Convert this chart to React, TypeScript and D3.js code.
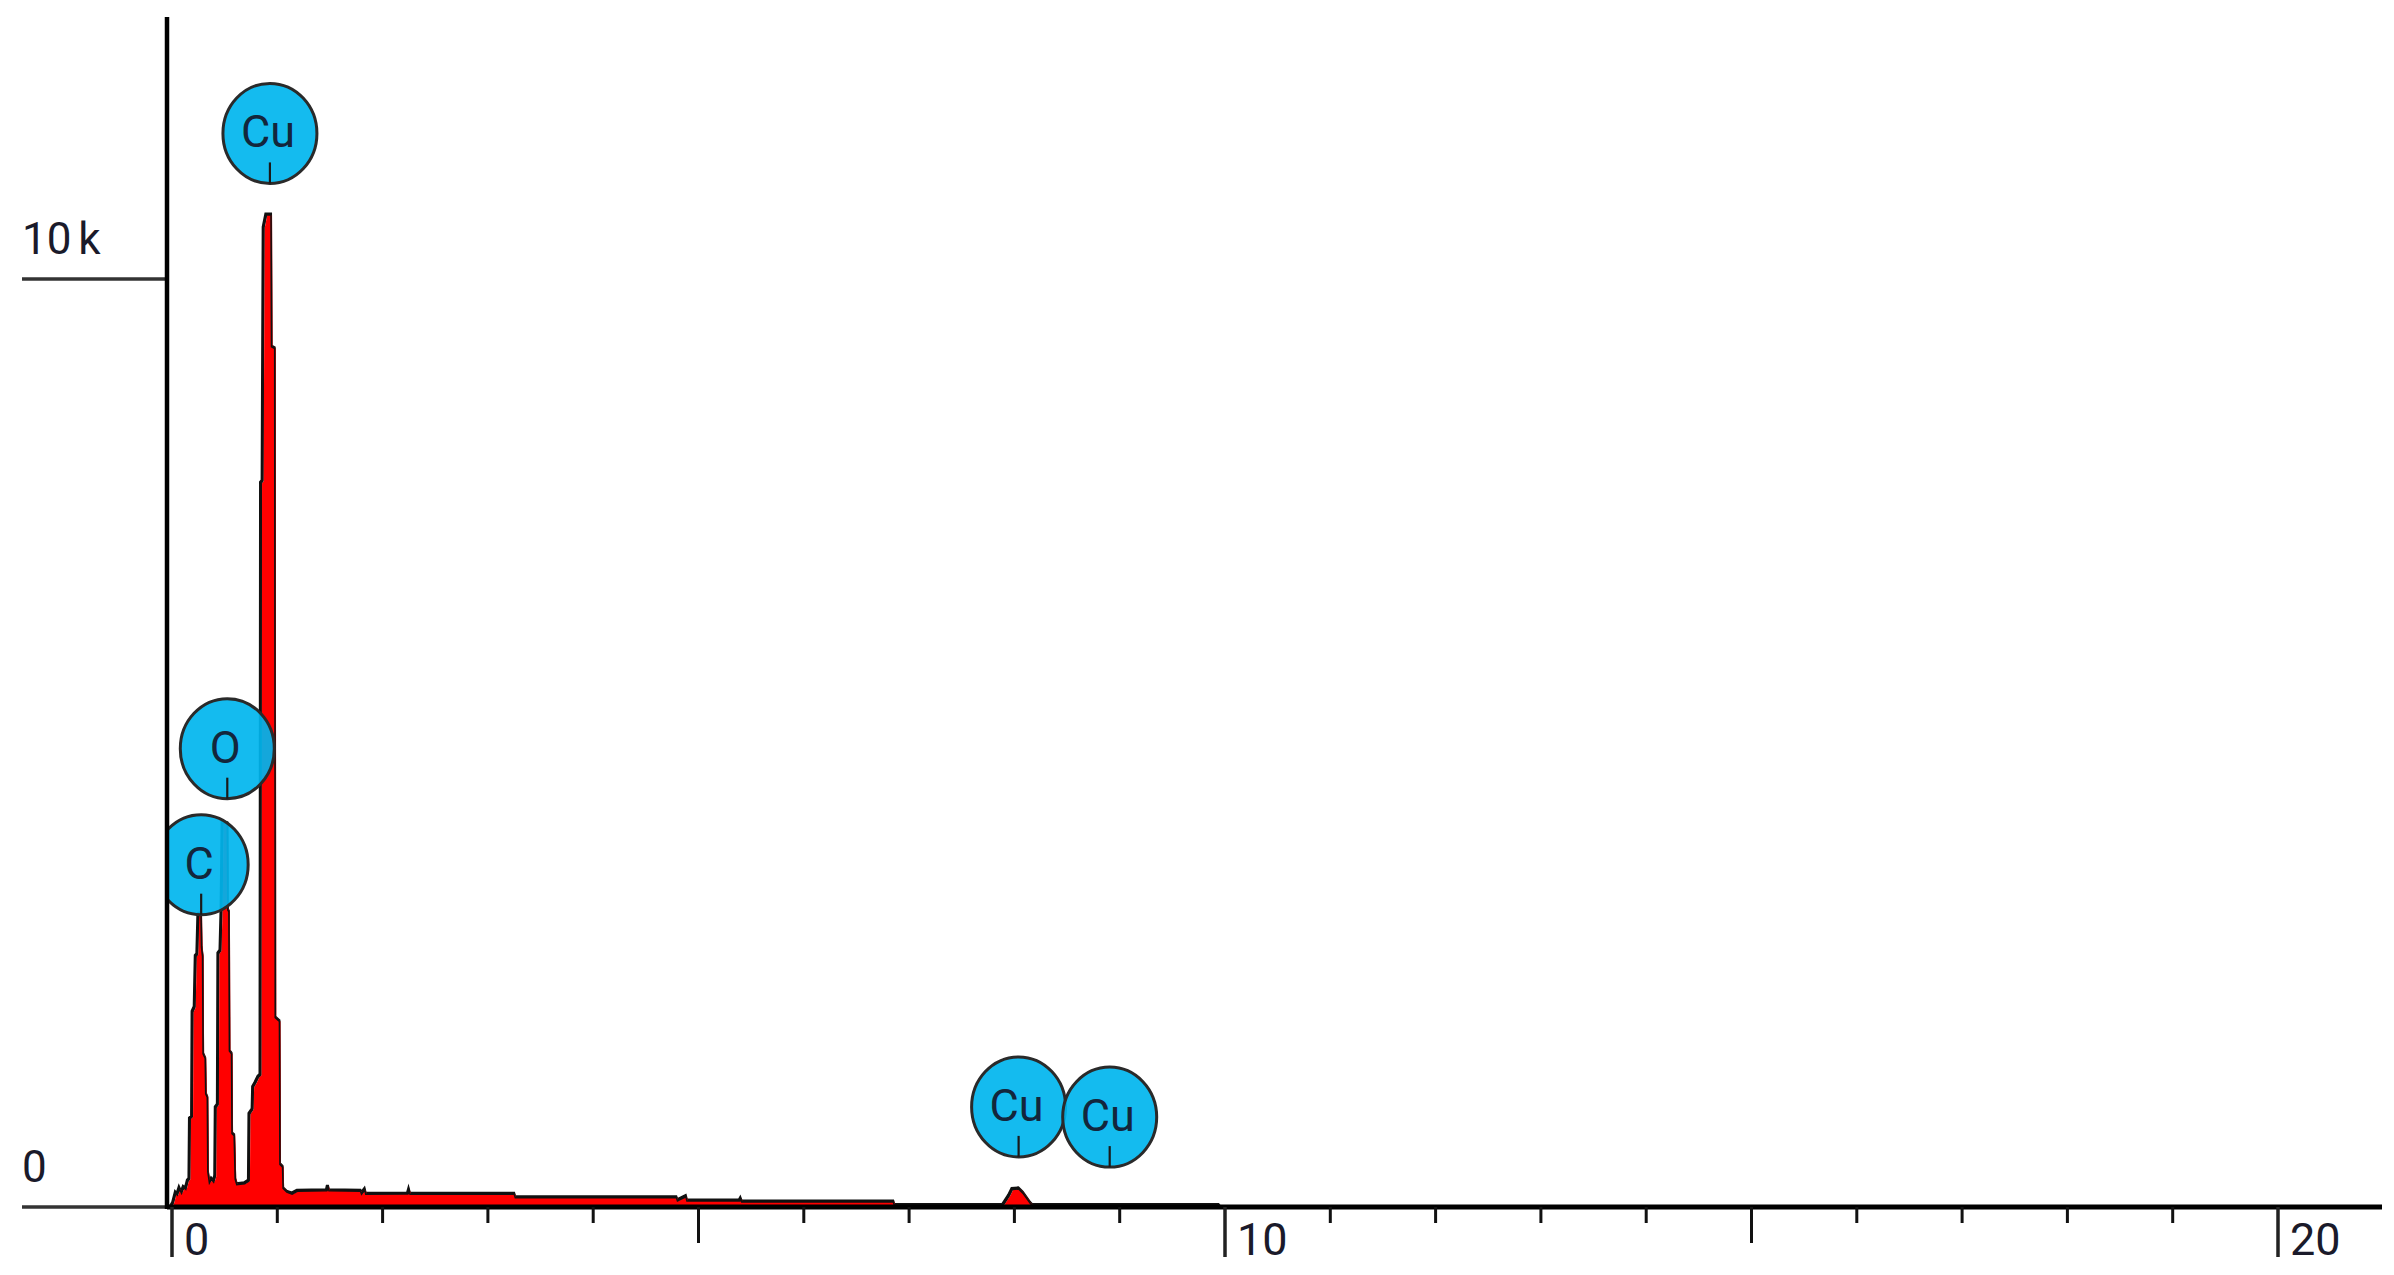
import React, { useEffect, useRef } from 'react';
import { select, scaleLinear, area, line } from 'd3';

const WIDTH = 2394;
const HEIGHT = 1275;

// EDS spectrum: energy (keV) and counts
const energyKeV = [
  0.0, 0.02, 0.045, 0.06, 0.08, 0.1, 0.12, 0.14, 0.16, 0.175,
  0.18, 0.2, 0.205, 0.225, 0.235, 0.25, 0.26, 0.285, 0.29, 0.3,
  0.305, 0.325, 0.33, 0.345, 0.35, 0.365, 0.385, 0.405, 0.42, 0.425,
  0.445, 0.45, 0.47, 0.48, 0.49, 0.535, 0.54, 0.55, 0.555, 0.575,
  0.58, 0.6, 0.61, 0.625, 0.7, 0.74, 0.745, 0.775, 0.78, 0.805,
  0.83, 0.85, 0.855, 0.87, 0.88, 0.905, 0.95, 0.955, 0.985, 0.99,
  1.03, 1.035, 1.06, 1.065, 1.1, 1.15, 1.2, 1.48, 1.49, 1.5,
  1.8, 1.81, 1.84, 1.85, 2.25, 2.26, 2.27, 3.26, 3.27, 4.8,
  4.81, 4.89, 4.9, 5.4, 5.41, 5.42, 6.86, 6.87, 7.9, 7.96,
  7.99, 8.05, 8.09, 8.16, 8.18, 9.95, 9.96,
];
const counts = [
  0, 40, 150, 130, 200, 150, 210, 190, 280, 300,
  950, 970, 2100, 2150, 2700, 2720, 3150, 3160, 2800, 2700,
  1650, 1600, 1220, 1180, 380, 260, 300, 270, 330, 1070,
  1100, 2730, 2760, 3200, 4140, 4130, 3200, 3180, 1680, 1650,
  790, 770, 300, 240, 250, 280, 1000, 1050, 1290, 1340,
  1400, 1420, 7800, 7820, 10550, 10690, 10690, 9270, 9250, 2040,
  2000, 460, 430, 200, 160, 140, 170, 175, 225, 175,
  170, 140, 185, 137, 140, 180, 137, 137, 100, 100,
  65, 110, 65, 65, 85, 55, 55, 15, 15, 120,
  190, 195, 150, 40, 15, 15, 0,
];

const xTickValues = [0, 1, 2, 3, 4, 5, 6, 7, 8, 9, 10, 11, 12, 13, 14, 15, 16, 17, 18, 19, 20];
const xMajorTicks = [0, 10, 20];
const xMediumTicks = [5, 15];
const xTickLabels = ['0', '10', '20'];

const yTickValues = [0, 10000];
const yTickLabels = ['0', '10 k'];

// element markers: name, line energy, counts level of the marker's bottom
const peakNames = ['C', 'O', 'Cu', 'Cu', 'Cu'];
const peakKeV = [0.277, 0.525, 0.93, 8.04, 8.905];
const peakLabelCounts = [3150, 4400, 11030, 540, 430];

const renderChart = (svgNode: SVGSVGElement) => {
  const svg = select(svgNode);
  svg.selectAll('*').remove();

  const x = scaleLinear().domain([0, 20]).range([172, 2278]);
  const y = scaleLinear().domain([0, 10000]).range([1207, 279]);
  const axisX = 167;
  const top = 17;
  const right = 2382;
  const left = 22;
  const font = 'Roboto, "Noto Sans", sans-serif';

  svg.append('rect').attr('width', WIDTH).attr('height', HEIGHT).attr('fill', '#fff');

  svg.append('defs').append('clipPath').attr('id', 'plot-clip')
    .append('rect')
      .attr('x', axisX + 1).attr('y', 0)
      .attr('width', WIDTH - axisX).attr('height', y(0));

  const plot = svg.append('g').attr('clip-path', 'url(#plot-clip)');

  const pts = energyKeV.map((e, i) => [e, counts[i]] as [number, number]);

  // dark outline first, slightly to the left, then the red fill over it
  plot.append('path')
    .datum(pts)
    .attr('fill', 'none')
    .attr('stroke', '#111')
    .attr('stroke-width', 3)
    .attr('d', line<[number, number]>().x(d => x(d[0]) - 1.5).y(d => y(d[1]) - 1));

  plot.append('path')
    .datum(pts)
    .attr('fill', '#ff0000')
    .attr('d', area<[number, number]>().x(d => x(d[0])).y0(y(0)).y1(d => y(d[1])));

  plot.append('path')
    .datum(pts)
    .attr('fill', 'none')
    .attr('stroke', '#111')
    .attr('stroke-width', 1.6)
    .attr('d', line<[number, number]>().x(d => x(d[0]) - 1).y(d => y(d[1])));

  // element markers
  const rx = 47;
  const ry = 50;
  const markers = plot.selectAll('g.marker')
    .data(peakNames.map((n, i) => ({ name: n, e: peakKeV[i], c: peakLabelCounts[i] })))
    .enter().append('g')
      .attr('class', 'marker')
      .attr('transform', d => `translate(${x(d.e)},${y(d.c) - ry})`);

  markers.append('ellipse')
    .attr('rx', rx).attr('ry', ry)
    .attr('fill', '#00b5ee')
    .attr('fill-opacity', 0.92)
    .attr('stroke', '#2a2a2a')
    .attr('stroke-width', 3);

  markers.append('line')
    .attr('x1', 0).attr('x2', 0)
    .attr('y1', 29).attr('y2', ry)
    .attr('stroke', '#1a1a1a')
    .attr('stroke-width', 2.2);

  markers.append('text')
    .attr('x', -2).attr('y', 14)
    .attr('text-anchor', 'middle')
    .attr('font-family', font)
    .attr('font-size', 45)
    .attr('fill', '#13263c')
    .text(d => d.name);

  // y gridline stubs + labels
  yTickValues.forEach((v, i) => {
    svg.append('line')
      .attr('x1', left).attr('x2', axisX)
      .attr('y1', y(v)).attr('y2', y(v))
      .attr('stroke', '#333').attr('stroke-width', 3.5);
    svg.append('text')
      .attr('x', left).attr('y', y(v) - 25)
      .attr('font-family', font).attr('font-size', 44)
      .attr('word-spacing', '-4px')
      .attr('fill', '#1a1a2a')
      .text(yTickLabels[i]);
  });

  // axes
  svg.append('line')
    .attr('x1', axisX).attr('x2', right)
    .attr('y1', y(0)).attr('y2', y(0))
    .attr('stroke', '#000').attr('stroke-width', 5);

  svg.append('line')
    .attr('x1', axisX).attr('x2', axisX)
    .attr('y1', top).attr('y2', y(0) + 2)
    .attr('stroke', '#000').attr('stroke-width', 4.5);

  svg.selectAll('line.xtick')
    .data(xTickValues)
    .enter().append('line')
      .attr('class', 'xtick')
      .attr('x1', d => x(d)).attr('x2', d => x(d))
      .attr('y1', y(0))
      .attr('y2', d => y(0) + (xMajorTicks.includes(d) ? 50 : xMediumTicks.includes(d) ? 36 : 16))
      .attr('stroke', d => xMajorTicks.includes(d) ? '#222' : '#111')
      .attr('stroke-width', d => xMajorTicks.includes(d) ? 3.5 : 3);

  svg.selectAll('text.xlabel')
    .data(xMajorTicks)
    .enter().append('text')
      .attr('class', 'xlabel')
      .attr('x', d => x(d) + 12)
      .attr('y', y(0) + 48)
      .attr('font-family', font).attr('font-size', 45)
      .attr('fill', '#1a1a2a')
      .text((d, i) => xTickLabels[i]);
};

const App = () => {
  const ref = useRef<SVGSVGElement>(null);
  useEffect(() => {
    if (ref.current) renderChart(ref.current);
  }, []);
  return (
    <svg
      ref={ref}
      width={WIDTH}
      height={HEIGHT}
      style={{ position: 'absolute', left: 0, top: 0, display: 'block' }}
    />
  );
};

export default App;
